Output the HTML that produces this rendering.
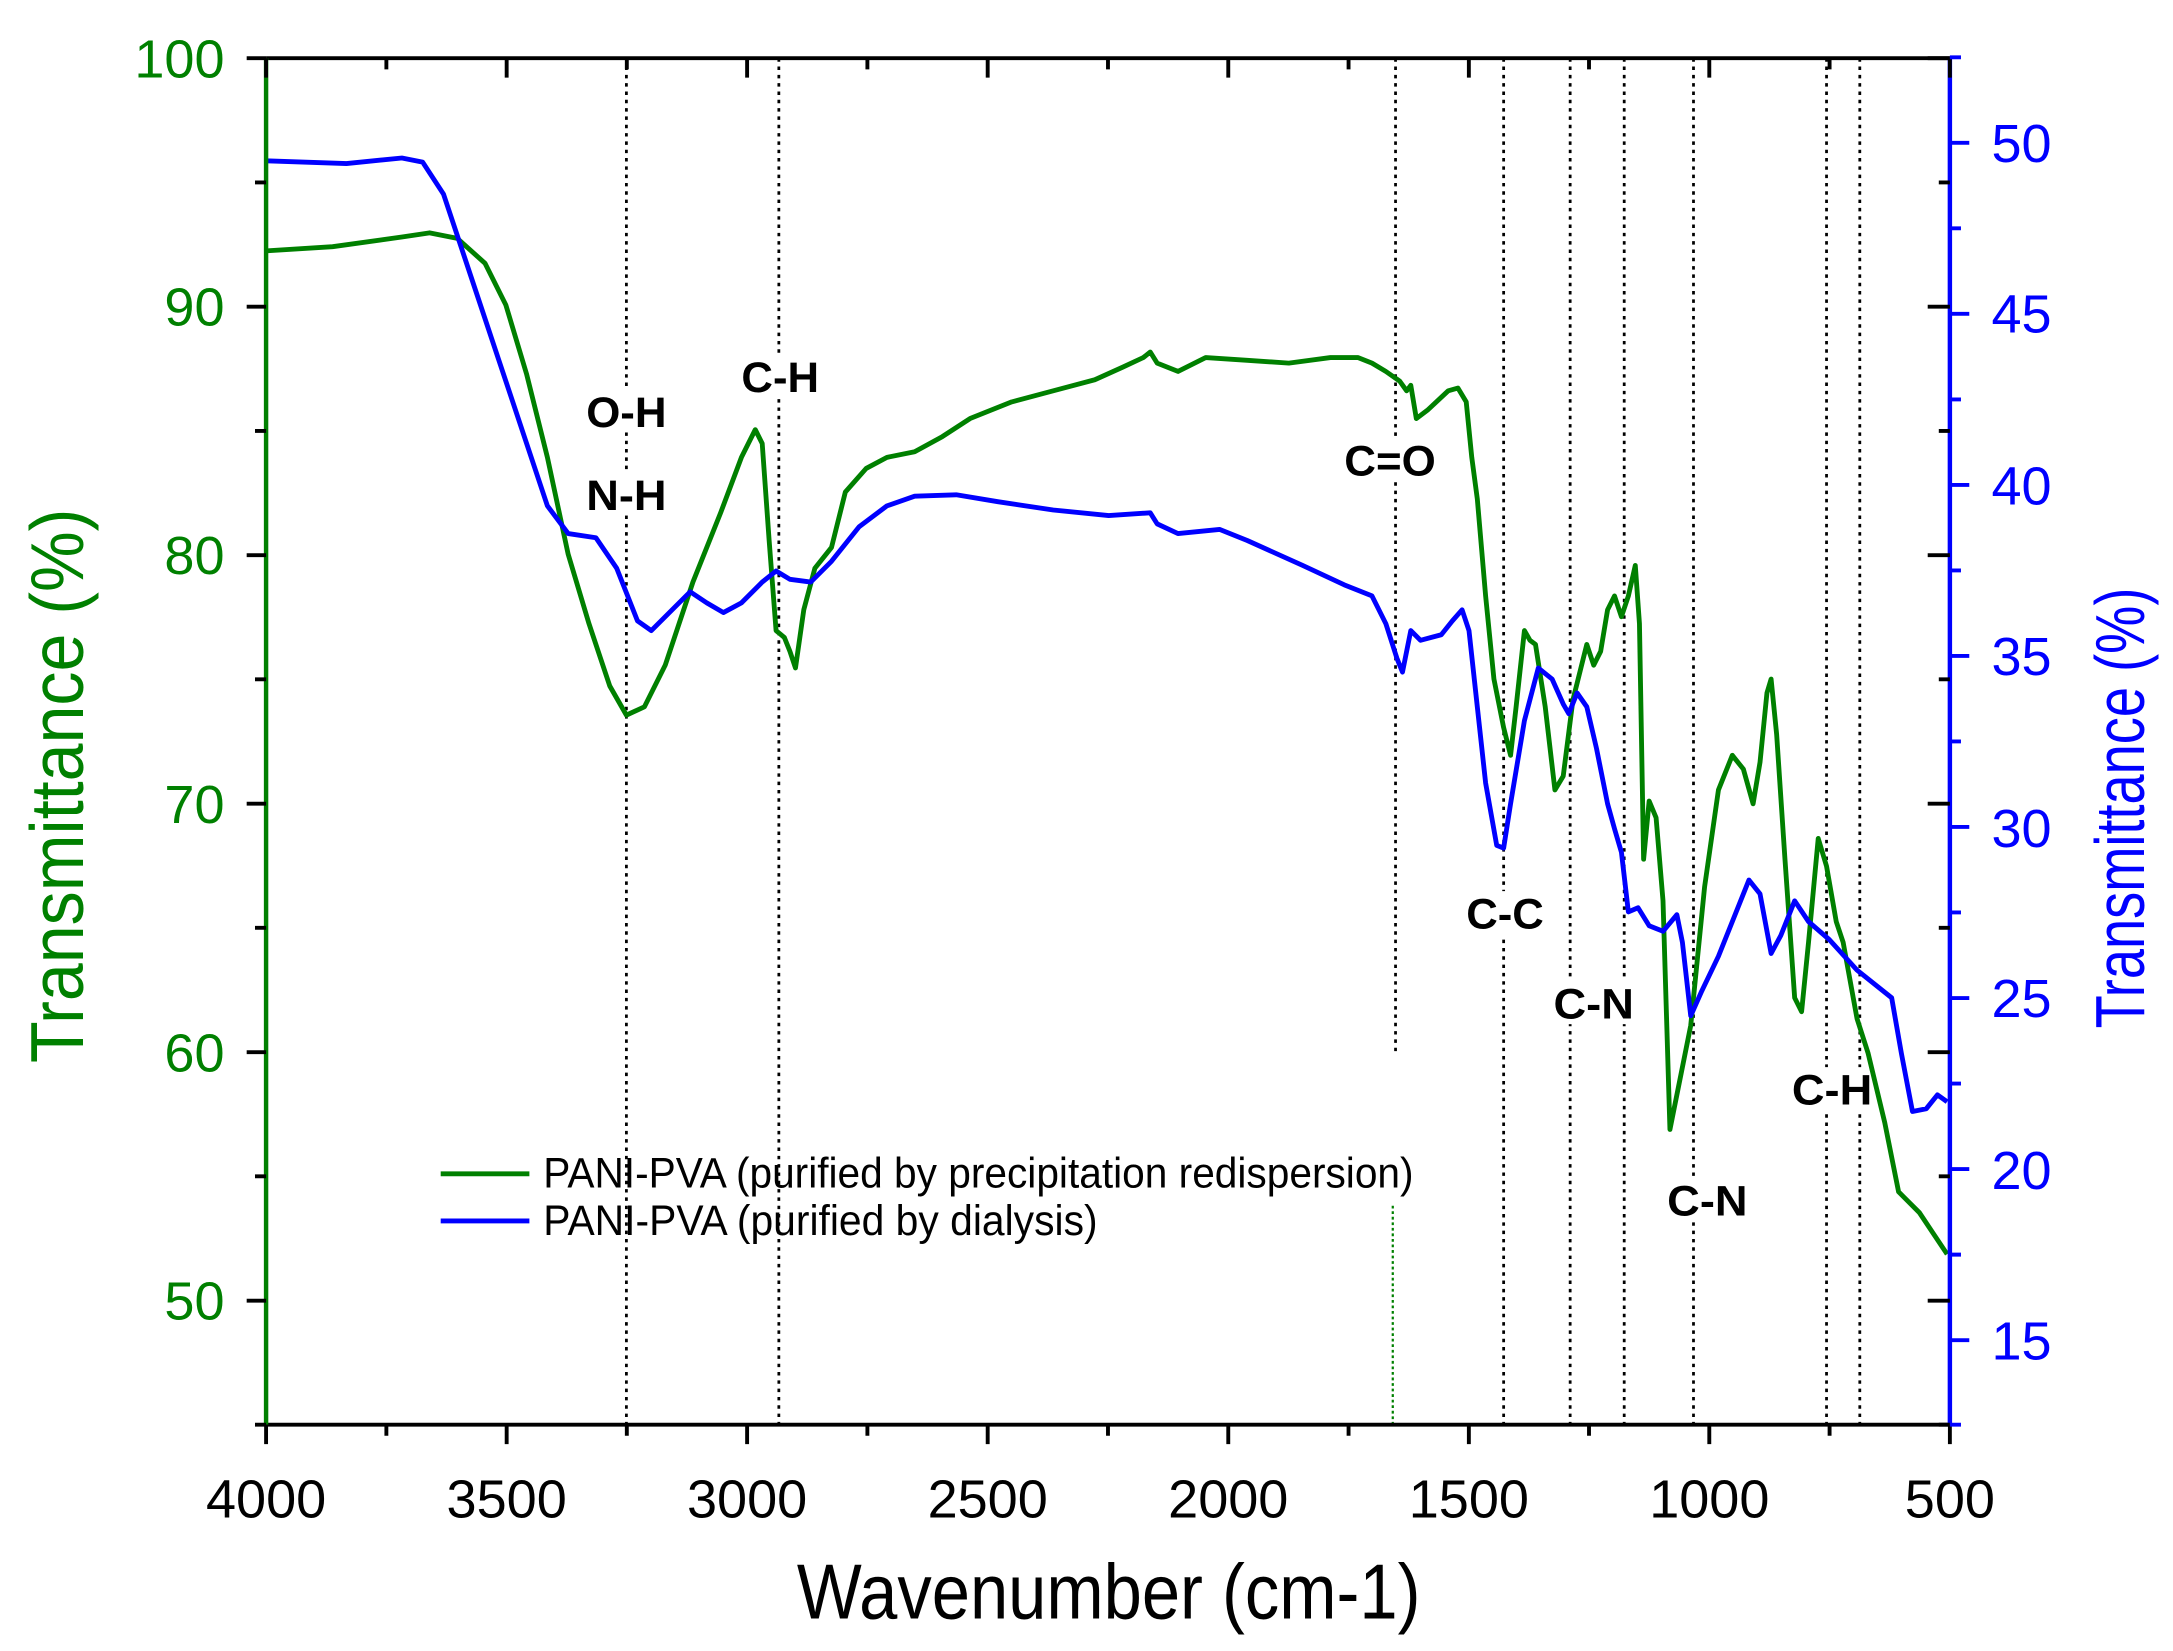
<!DOCTYPE html>
<html><head><meta charset="utf-8"><style>html,body{margin:0;padding:0;background:#fff}svg{display:block}</style></head>
<body>
<svg width="2173" height="1651" viewBox="0 0 1568 1191.3" xmlns="http://www.w3.org/2000/svg" font-family="Liberation Sans, Arial, sans-serif">
<rect width="1568" height="1191.3" fill="#fff"/>
<g stroke="#000" stroke-width="2" stroke-dasharray="2.5,3.5">
<line x1="452" y1="42" x2="452" y2="1028"/>
<line x1="562" y1="42" x2="562" y2="1028"/>
<line x1="1007" y1="42" x2="1007" y2="760"/>
<line x1="1085" y1="42" x2="1085" y2="1028"/>
<line x1="1133" y1="42" x2="1133" y2="1028"/>
<line x1="1172" y1="42" x2="1172" y2="1028"/>
<line x1="1222" y1="42" x2="1222" y2="1028"/>
<line x1="1318" y1="42" x2="1318" y2="1028"/>
<line x1="1342" y1="42" x2="1342" y2="1028"/>
</g>
<line x1="1005" y1="870" x2="1005" y2="1028" stroke="#008000" stroke-width="1.6" stroke-dasharray="2,2"/>
<g fill="#fff">
<rect x="418" y="280" width="68" height="32"/><rect x="418" y="340" width="68" height="32"/>
<rect x="530" y="255" width="66" height="32"/><rect x="966" y="315" width="76" height="32"/>
<rect x="1053" y="643" width="66" height="32"/><rect x="1116" y="707" width="68" height="32"/>
<rect x="1198" y="849" width="68" height="32"/><rect x="1288" y="770" width="68" height="32"/>
</g>
<polyline fill="none" stroke="#008000" stroke-width="3.5" stroke-linejoin="round" points="192,181 240,178 290,171 310,168 330,172 350,190 365,220 380,270 395,330 410,400 425,450 440,495 452,516 465,510 480,480 500,420 520,370 535,330 545,310 550,320 555,390 560,455 566,460 570,470 574,482 580,440 588,410 600,395 610,355 625,338 640,330 660,326 680,315 700,302 730,290 760,282 790,274 810,265 825,258 830,254 835,262 850,268 870,258 900,260 930,262 960,258 980,258 990,262 1000,268 1010,275 1015,282 1018,278 1022,302 1030,296 1045,282 1052,280 1058,290 1062,330 1066,360 1072,430 1078,490 1085,525 1090,545 1094,510 1100,455 1104,462 1108,465 1115,510 1122,570 1128,560 1135,505 1145,465 1150,480 1155,470 1160,440 1165,430 1170,445 1175,430 1180,408 1183,450 1186,620 1190,578 1195,590 1200,650 1205,815 1212,780 1220,740 1230,640 1240,570 1250,545 1258,555 1265,580 1270,550 1275,500 1278,490 1282,530 1288,620 1295,720 1300,730 1305,680 1312,605 1318,625 1325,665 1330,680 1340,735 1348,760 1360,810 1370,860 1385,875 1395,890 1405,905"/>
<polyline fill="none" stroke="#0000ff" stroke-width="3.5" stroke-linejoin="round" points="192,116 250,118 290,114 305,117 320,140 340,200 360,260 380,320 395,365 410,385 430,388 445,410 460,448 470,455 485,440 498,427 510,435 522,442 535,435 550,420 560,412 570,418 585,420 600,405 620,380 640,365 660,358 690,357 720,362 760,368 800,372 830,370 835,378 850,385 870,383 880,382 900,390 940,408 970,422 990,430 1000,450 1008,475 1012,485 1018,455 1025,462 1040,458 1048,448 1055,440 1060,455 1066,510 1072,565 1080,610 1085,612 1090,580 1100,520 1110,482 1120,490 1128,508 1132,515 1138,500 1145,510 1152,540 1160,580 1165,598 1170,615 1175,658 1182,655 1190,668 1200,672 1210,660 1214,680 1220,733 1228,715 1240,690 1250,665 1262,635 1270,645 1278,688 1285,675 1295,650 1305,665 1320,678 1340,700 1365,720 1372,760 1380,802 1390,800 1398,790 1405,795"/>
<g font-weight="bold" font-size="31" text-anchor="middle" fill="#000" lengthAdjust="spacingAndGlyphs">
<text x="452" y="308" textLength="58" lengthAdjust="spacingAndGlyphs">O-H</text>
<text x="452" y="368" textLength="58" lengthAdjust="spacingAndGlyphs">N-H</text>
<text x="563" y="283" textLength="56" lengthAdjust="spacingAndGlyphs">C-H</text>
<text x="1003" y="343" textLength="66" lengthAdjust="spacingAndGlyphs">C=O</text>
<text x="1086" y="670" textLength="56" lengthAdjust="spacingAndGlyphs">C-C</text>
<text x="1150" y="735" textLength="58" lengthAdjust="spacingAndGlyphs">C-N</text>
<text x="1232" y="877" textLength="58" lengthAdjust="spacingAndGlyphs">C-N</text>
<text x="1322" y="797" textLength="58" lengthAdjust="spacingAndGlyphs">C-H</text>
</g>
<line x1="318" y1="847" x2="382" y2="847" stroke="#008000" stroke-width="3.5"/>
<line x1="318" y1="881" x2="382" y2="881" stroke="#0000ff" stroke-width="3.5"/>
<text x="392" y="857" font-size="31" fill="#000" textLength="628" lengthAdjust="spacingAndGlyphs">PANI-PVA (purified by precipitation redispersion)</text>
<text x="392" y="891" font-size="31" fill="#000" textLength="400" lengthAdjust="spacingAndGlyphs">PANI-PVA (purified by dialysis)</text>
<line x1="192" y1="42" x2="1407" y2="42" stroke="#000" stroke-width="2.8"/>
<line x1="192" y1="1028" x2="1407" y2="1028" stroke="#000" stroke-width="2.8"/>
<line x1="192" y1="42" x2="192" y2="1028" stroke="#008000" stroke-width="3.2"/>
<line x1="1407" y1="42" x2="1407" y2="1028" stroke="#0000ff" stroke-width="3.2"/>
<g stroke="#000" stroke-width="2.8">
<path d="M192,1028v14M365.6,1028v14M539.1,1028v14M712.7,1028v14M886.3,1028v14M1059.9,1028v14M1233.4,1028v14M1407,1028v14"/>
<path d="M278.8,1028v8M452.3,1028v8M625.9,1028v8M799.5,1028v8M973.1,1028v8M1146.6,1028v8M1320.2,1028v8"/>
<path d="M192,42v14M365.6,42v14M539.1,42v14M712.7,42v14M886.3,42v14M1059.9,42v14M1233.4,42v14M1407,42v14"/>
<path d="M278.8,42v8M452.3,42v8M625.9,42v8M799.5,42v8M973.1,42v8M1146.6,42v8M1320.2,42v8"/>
<path d="M1407,42h-16M1407,221.3h-16M1407,400.6h-16M1407,579.9h-16M1407,759.2h-16M1407,938.5h-16M1407,131.6h-8M1407,310.9h-8M1407,490.2h-8M1407,669.5h-8M1407,848.8h-8M1407,1028h-8"/>
<path d="M192,42h-14M192,221.3h-14M192,400.6h-14M192,579.9h-14M192,759.2h-14M192,938.5h-14M192,131.6h-8M192,310.9h-8M192,490.2h-8M192,669.5h-8M192,848.8h-8M192,1028h-8"/>
</g>
<g font-size="39" text-anchor="middle" fill="#000">
<text x="192" y="1095">4000</text><text x="365.6" y="1095">3500</text><text x="539.1" y="1095">3000</text><text x="712.7" y="1095">2500</text><text x="886.3" y="1095">2000</text><text x="1059.9" y="1095">1500</text><text x="1233.4" y="1095">1000</text><text x="1407" y="1095">500</text>
</g>
<g font-size="39" text-anchor="end" fill="#008000">
<text x="162" y="56">100</text><text x="162" y="235">90</text><text x="162" y="414">80</text><text x="162" y="594">70</text><text x="162" y="773">60</text><text x="162" y="952">50</text>
</g>
<g stroke="#0000ff" stroke-width="2.8">
<path d="M1407,103h14M1407,226.4h14M1407,349.9h14M1407,473.3h14M1407,596.7h14M1407,720.2h14M1407,843.6h14M1407,967h14"/>
<path d="M1407,41.3h8M1407,164.7h8M1407,288.2h8M1407,411.6h8M1407,535h8M1407,658.4h8M1407,781.9h8M1407,905.3h8M1407,1028h8"/>
</g>
<g font-size="39" text-anchor="start" fill="#0000ff">
<text x="1437" y="117">50</text><text x="1437" y="240">45</text><text x="1437" y="364">40</text><text x="1437" y="487">35</text><text x="1437" y="611">30</text><text x="1437" y="734">25</text><text x="1437" y="858">20</text><text x="1437" y="981">15</text>
</g>
<text transform="translate(60,567) rotate(-90)" font-size="54" text-anchor="middle" fill="#008000" textLength="400" lengthAdjust="spacingAndGlyphs">Transmittance (%)</text>
<text transform="translate(1547,583) rotate(-90)" font-size="50" text-anchor="middle" fill="#0000ff" textLength="318" lengthAdjust="spacingAndGlyphs">Transmittance (%)</text>
<text x="800" y="1168" font-size="56" text-anchor="middle" fill="#000" textLength="450" lengthAdjust="spacingAndGlyphs">Wavenumber (cm-1)</text>
</svg>
</body></html>
